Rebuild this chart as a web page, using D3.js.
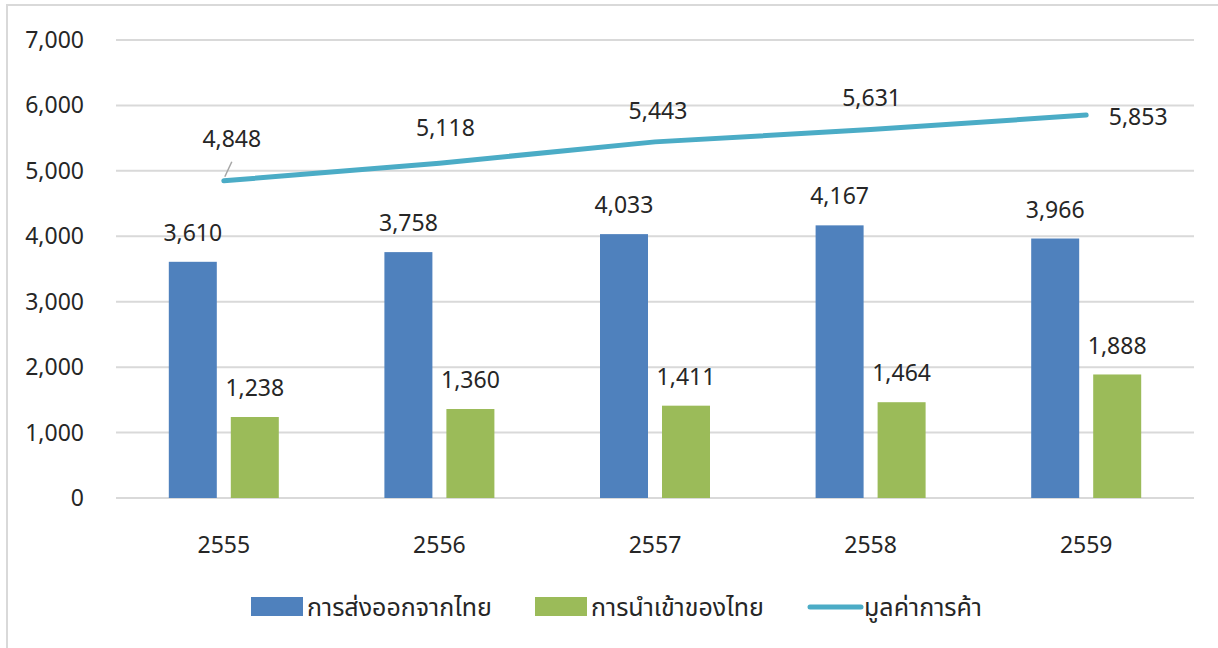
<!DOCTYPE html>
<html>
<head>
<meta charset="utf-8">
<script src="https://cdn.jsdelivr.net/npm/d3@7"></script>
<style>
  body { margin: 0; background: #fff; }
  text { font-family: "Noto Sans", "Open Sans", sans-serif; fill: #262626; }
  .legend text { font-family: "Noto Sans Thai", "Noto Sans Thai Looped", "Loma", "Garuda", "Tlwg Typo", "Noto Sans", sans-serif; }
</style>
</head>
<body>
<div class="canvas"></div>
<script>
// data
const years = ['2555', '2556', '2557', '2558', '2559'];
const exports = [3610, 3758, 4033, 4167, 3966];
const imports = [1238, 1360, 1411, 1464, 1888];
const tradeValue = [4848, 5118, 5443, 5631, 5853];
const yTicks = [0, 1000, 2000, 3000, 4000, 5000, 6000, 7000];
const seriesNames = ['การส่งออกจากไทย', 'การนำเข้าของไทย', 'มูลค่าการค้า'];

// layout
const W = 1218, H = 648;
const plot = { left: 116, right: 1194, top: 40, bottom: 498 };
const colors = { exp: '#4f81bd', imp: '#9bbb59', line: '#4bacc6', grid: '#d9d9d9' };
// label nudges for the line labels (dx, dy from point)
const lineLabelNudge = [[8, -42], [6, -35], [3, -31], [1, -32], [52, 2]];

const svg = d3.select('.canvas')
  .append('svg')
  .attr('width', W)
  .attr('height', H);

// outer border (runs off the right/bottom edge)
svg.append('rect')
  .attr('x', 7).attr('y', 5)
  .attr('width', W + 20).attr('height', H + 20)
  .attr('fill', 'none')
  .attr('stroke', colors.grid)
  .attr('stroke-width', 2);

// scales
const x = d3.scaleBand()
  .domain(years)
  .range([plot.left, plot.right]);

const y = d3.scaleLinear()
  .domain([0, 7000])
  .range([plot.bottom, plot.top]);

const barW = 48;
const barGap = 14;

// gridlines
svg.append('g')
  .selectAll('line')
  .data(yTicks)
  .enter().append('line')
    .attr('x1', plot.left).attr('x2', plot.right)
    .attr('y1', d => y(d)).attr('y2', d => y(d))
    .attr('stroke', colors.grid)
    .attr('stroke-width', 2);

// y axis labels
const fmt = d3.format(',');
svg.append('g')
  .selectAll('text')
  .data(yTicks)
  .enter().append('text')
    .attr('x', 84)
    .attr('y', d => y(d))
    .attr('dy', '0.35em')
    .attr('text-anchor', 'end')
    .attr('font-size', 23)
    .text(d => fmt(d));

// x axis labels
svg.append('g')
  .selectAll('text')
  .data(years)
  .enter().append('text')
    .attr('x', d => x(d) + x.bandwidth() / 2)
    .attr('y', 545)
    .attr('dy', '0.35em')
    .attr('text-anchor', 'middle')
    .attr('font-size', 23)
    .text(d => d);

// bars
const cx = d => x(d) + x.bandwidth() / 2;
const bars = [
  { vals: exports, color: colors.exp, off: -(barW + barGap / 2) },
  { vals: imports, color: colors.imp, off: barGap / 2 }
];

bars.forEach(s => {
  const g = svg.append('g');
  g.selectAll('rect')
    .data(years)
    .enter().append('rect')
      .attr('x', (d, i) => cx(d) + s.off)
      .attr('y', (d, i) => y(s.vals[i]))
      .attr('width', barW)
      .attr('height', (d, i) => y(0) - y(s.vals[i]))
      .attr('fill', s.color);
  g.selectAll('text')
    .data(years)
    .enter().append('text')
      .attr('x', (d, i) => cx(d) + s.off + barW / 2)
      .attr('y', (d, i) => y(s.vals[i]) - 29)
      .attr('dy', '0.35em')
      .attr('text-anchor', 'middle')
      .attr('font-size', 23)
      .text((d, i) => fmt(s.vals[i]));
});

// line
const line = d3.line()
  .x((d, i) => cx(years[i]))
  .y(d => y(d));

svg.append('path')
  .datum(tradeValue)
  .attr('d', line)
  .attr('fill', 'none')
  .attr('stroke', colors.line)
  .attr('stroke-width', 5)
  .attr('stroke-linecap', 'round')
  .attr('stroke-linejoin', 'round');

// leader line for first label
svg.append('line')
  .attr('x1', cx(years[0]) + 1).attr('y1', y(tradeValue[0]) - 4)
  .attr('x2', cx(years[0]) + 8).attr('y2', y(tradeValue[0]) - 19)
  .attr('stroke', '#a6a6a6')
  .attr('stroke-width', 1.5);

svg.append('g')
  .selectAll('text')
  .data(tradeValue)
  .enter().append('text')
    .attr('x', (d, i) => cx(years[i]) + lineLabelNudge[i][0])
    .attr('y', (d, i) => y(d) + lineLabelNudge[i][1])
    .attr('dy', '0.35em')
    .attr('text-anchor', 'middle')
    .attr('font-size', 23)
    .text(d => fmt(d));

// legend
const legend = svg.append('g').attr('class', 'legend');
const legendItems = [
  { name: seriesNames[0], color: colors.exp, type: 'rect', x: 251 },
  { name: seriesNames[1], color: colors.imp, type: 'rect', x: 535 },
  { name: seriesNames[2], color: colors.line, type: 'line', x: 808 }
];
legendItems.forEach(it => {
  if (it.type === 'rect') {
    legend.append('rect')
      .attr('x', it.x).attr('y', 597)
      .attr('width', 52).attr('height', 19)
      .attr('fill', it.color);
  } else {
    legend.append('line')
      .attr('x1', it.x + 2).attr('x2', it.x + 53)
      .attr('y1', 607).attr('y2', 607)
      .attr('stroke', it.color)
      .attr('stroke-width', 5)
      .attr('stroke-linecap', 'round');
  }
  legend.append('text')
    .attr('x', it.x + 56)
    .attr('y', 607)
    .attr('dy', '0.35em')
    .attr('font-size', 25)
    .text(it.name);
});
</script>
</body>
</html>
